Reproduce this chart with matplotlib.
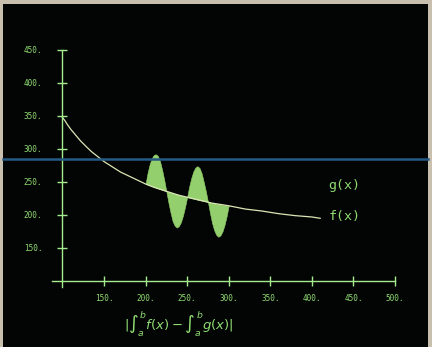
import matplotlib
matplotlib.use("Agg")
import matplotlib.pyplot as plt
from matplotlib.lines import Line2D

# f(x): decaying curve
f_x = [100, 103, 106, 110, 114, 118, 122, 126, 130, 135, 140, 145, 150, 160, 170, 180, 190,
       200, 210, 220, 230, 240, 250, 260, 270, 280, 290, 300,
       320, 340, 360, 380, 400, 410]
f_y = [348, 343, 337, 330, 324, 318, 312, 307, 302, 296, 291, 286, 281, 273, 265, 259, 253,
       247, 242, 238, 234, 230, 227, 224, 221, 218, 216, 214,
       209, 206, 202, 199, 197, 195]

# g(x) over the integration interval [a, b] = [200, 300], and f on the same points
g_x = [200, 202.5, 205, 207.5, 210, 212.5, 215, 217.5, 220, 222.5,
       225, 227.5, 230, 232.5, 235, 237.5, 240, 242.5, 245, 247.5,
       250, 252.5, 255, 257.5, 260, 262.5, 265, 267.5, 270, 272.5,
       275, 277.5, 280, 282.5, 285, 287.5, 290, 292.5, 295, 297.5, 300]
g_y = [247, 264, 277, 286, 291, 292, 289, 281, 268, 253,
       236, 219, 204, 191, 184, 181, 183, 189, 199, 212,
       227, 243, 256, 266, 272, 274, 271, 263, 250, 236,
       220, 203, 188, 177, 170, 167, 169, 175, 185, 198, 214]
f_on_g = [247.3, 246.0, 244.8, 243.6, 242.5, 241.3, 240.2, 239.1, 238.1, 237.0,
          236.0, 235.0, 234.1, 233.1, 232.2, 231.3, 230.4, 229.5, 228.7, 227.8,
          227.0, 226.2, 225.4, 224.7, 223.9, 223.2, 222.4, 221.7, 221.0, 220.3,
          219.7, 219.0, 218.3, 217.7, 217.1, 216.5, 215.8, 215.3, 214.7, 214.1, 213.5]

x_ticks = [150, 200, 250, 300, 350, 400, 450, 500]
y_ticks = [150, 200, 250, 300, 350, 400, 450]

green = "#8fdc72"
axis_green = "#a6ec8e"
fill_green = "#93cf6c"
curve_col = "#d9e6b4"

fig = plt.figure(figsize=(4.32, 3.47), dpi=100)
fig.patch.set_facecolor("#c8bfae")

# the dark screen inside the photo frame
screen = fig.add_axes([3 / 432, 0, 425 / 432, 343 / 347])
screen.set_facecolor("#030504")
screen.set_xticks([])
screen.set_yticks([])
for s in screen.spines.values():
    s.set_visible(False)

# horizontal scan band across the screen (sits behind the plot)
fig.add_artist(Line2D([3 / 432, 428 / 432], [1 - 159 / 347, 1 - 159 / 347],
                      transform=fig.transFigure, color="#255a84", linewidth=1.8,
                      zorder=0.5))

ax = fig.add_axes([0.1213, 0.1712, 0.8123, 0.7228])
ax.patch.set_alpha(0)
ax.set_xlim(88, 510)
ax.set_ylim(90, 470)

ax.fill_between(g_x, f_on_g, g_y, color=fill_green, linewidth=0.4, edgecolor=fill_green)
ax.plot(f_x, f_y, color=curve_col, linewidth=0.9)

for s in ["top", "right"]:
    ax.spines[s].set_visible(False)
ax.spines["left"].set_position(("data", 100))
ax.spines["bottom"].set_position(("data", 100))
ax.spines["left"].set_bounds(91, 450)
ax.spines["bottom"].set_bounds(88, 500)
for s in ["left", "bottom"]:
    ax.spines[s].set_color(axis_green)
    ax.spines[s].set_linewidth(1.0)

ax.set_xticks(x_ticks)
ax.set_xticklabels([f"{v}." for v in x_ticks])
ax.set_yticks(y_ticks)
ax.set_yticklabels([f"{v}." for v in y_ticks])
ax.tick_params(axis="both", direction="inout", length=7, width=1.0, color=axis_green,
               labelcolor=green, labelsize=5.5)
ax.tick_params(axis="x", pad=6)
ax.tick_params(axis="y", pad=11)
for lab in ax.get_xticklabels() + ax.get_yticklabels():
    lab.set_family("DejaVu Sans Mono")

ax.text(420, 197, "f(x)", color=green, fontsize=9.5, family="DejaVu Sans Mono",
        va="center", ha="left")
ax.text(420, 245, "g(x)", color=green, fontsize=9.5, family="DejaVu Sans Mono",
        va="center", ha="left")

fig.text(179 / 432, 1 - 323 / 347, r"$|\int_a^b f(x) - \int_a^b g(x)|$",
         color=green, fontsize=9.5, ha="center", va="center")

fig.savefig("out.png", dpi=100, facecolor=fig.get_facecolor())
